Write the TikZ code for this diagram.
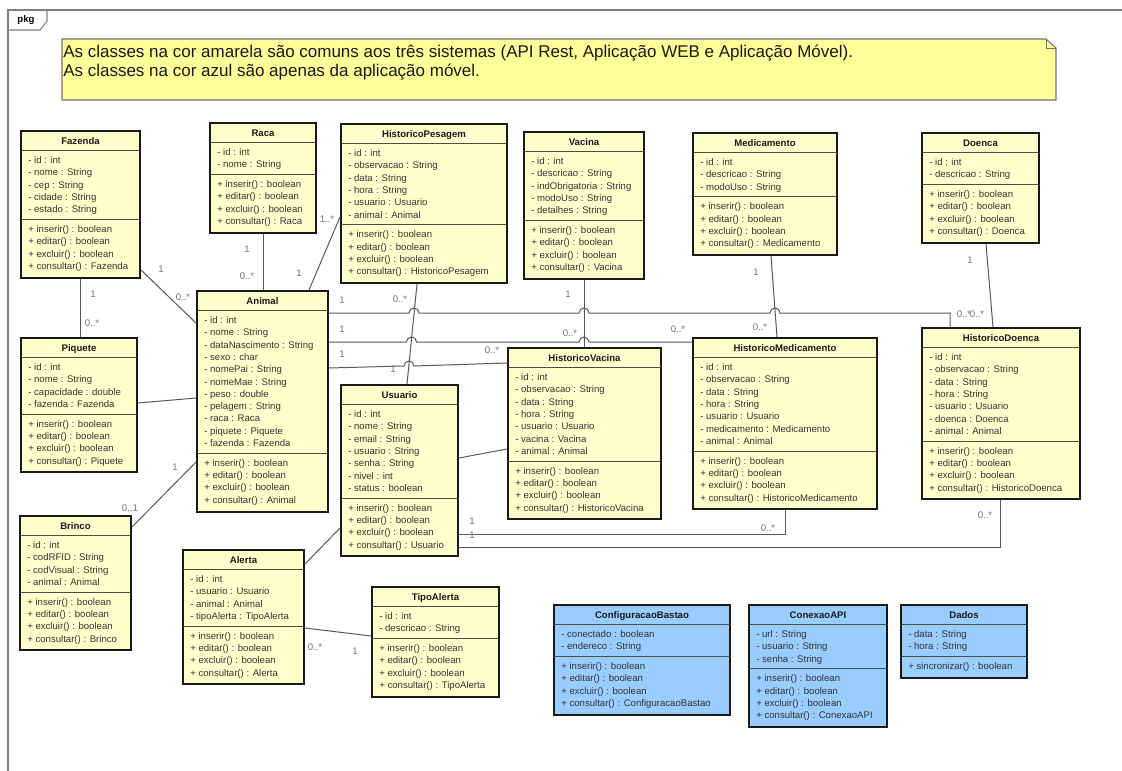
\documentclass[tikz,border=0pt]{standalone}
\usepackage{fontspec}
\setmainfont{Liberation Sans}
\usetikzlibrary{fit}

\definecolor{clsyellow}{HTML}{FFFFCC}
\definecolor{clsblue}{HTML}{99CCFF}
\definecolor{notefill}{HTML}{FFFF99}

% \umlclass{extra style}{name}{left}{top}{right}{title}{attributes}{operations}
% sizes in px: header 19.5, each row 12.3
\newcommand\umlclass[8]{%
  \gdef\clsNA{0}\foreach \cItem in {#7}{\pgfmathtruncatemacro\clsTmp{\clsNA+1}\global\let\clsNA\clsTmp}%
  \gdef\clsNM{0}\foreach \cItem in {#8}{\pgfmathtruncatemacro\clsTmp{\clsNM+1}\global\let\clsNM\clsTmp}%
  \pgfmathsetmacro\clsHS{#4+19.5}%
  \pgfmathsetmacro\clsAS{\clsHS+\clsNA*12.3+7.5}%
  \pgfmathsetmacro\clsBT{\clsAS+\clsNM*12.3+9}%
  \node[classbox,#1,fit={(#3,#4) (#5,\clsBT)}] (#2) {};
  \draw[sepline] (#3,\clsHS) -- (#5,\clsHS) (#3,\clsAS) -- (#5,\clsAS);
  \node[ctitle] (#2-name) at ({(#3+#5)/2},{#4+13.2}) {#6};
  \foreach \cRow [count=\i] in {#7}
    \node[crow] (#2-a\i) at ({#3+7},{\clsHS+13+(\i-1)*12.3}) {\cRow};
  \foreach \cRow [count=\i] in {#8}
    \node[crow] (#2-m\i) at ({#3+7},{\clsAS+13+(\i-1)*12.3}) {\cRow};
}

\begin{document}
\begin{tikzpicture}[x=0.75pt,y=-0.75pt,
  classbox/.style={draw=black!90,line width=1.5pt,fill=clsyellow,inner sep=0pt},
  bluebox/.style={fill=clsblue},
  sepline/.style={draw=black!70,line width=0.7pt},
  ctitle/.style={font=\fontsize{7.2}{9}\selectfont\bfseries,inner sep=0pt,anchor=base,text=black!90},
  crow/.style={font=\fontsize{7.2}{9}\selectfont,inner sep=0pt,anchor=base west,text=black!80},
  assoc/.style={draw=black!65,line width=0.75pt},
  mult/.style={font=\fontsize{7.2}{9}\selectfont,text=black!55,inner sep=0pt},
  frameline/.style={draw=black!50,line width=0.8pt},
  notebox/.style={draw=black!55,line width=0.8pt,fill=notefill},
  notetext/.style={font=\fontsize{12.75}{15}\selectfont,inner sep=0pt,anchor=base west,text=black!90}]

\useasboundingbox[fill=white] (0,0) rectangle (1122,771);

% package frame and its tab
\draw[frameline] (1122,10) -- (8,10) -- (8,771);
\draw[frameline] (8,30) -- (40,30) -- (47,21) -- (47,10);
\node[font=\fontsize{7.2}{9}\selectfont\bfseries,inner sep=0pt] (pkg) at (26,20) {pkg};

% note
\draw[notebox] (62,39) -- (1046,39) -- (1056,48) -- (1056,100) -- (62,100) -- cycle;
\draw[draw=black!55,line width=0.6pt] (1046,39) -- (1046,48) -- (1056,48);
\node[notetext] (note1) at (63,57.5) {As classes na cor amarela são comuns aos três sistemas (API Rest, Aplicação WEB e Aplicação Móvel).};
\node[notetext] (note2) at (63,76.5) {As classes na cor azul são apenas da aplicação móvel.};

% classes
\umlclass{}{fazenda}{21}{131}{140}{Fazenda}
  {- id : int,- nome : String,- cep : String,- cidade : String,- estado : String}
  {+ inserir() : boolean,+ editar() : boolean,+ excluir() : boolean,+ consultar() : Fazenda}
\umlclass{}{raca}{210}{123}{316}{Raca}
  {- id : int,- nome : String}
  {+ inserir() : boolean,+ editar() : boolean,+ excluir() : boolean,+ consultar() : Raca}
\umlclass{}{pesagem}{341}{124}{507}{HistoricoPesagem}
  {- id : int,- observacao : String,- data : String,- hora : String,- usuario : Usuario,- animal : Animal}
  {+ inserir() : boolean,+ editar() : boolean,+ excluir() : boolean,+ consultar() : HistoricoPesagem}
\umlclass{}{vacina}{524}{132}{644}{Vacina}
  {- id : int,- descricao : String,- indObrigatoria : String,- modoUso : String,- detalhes : String}
  {+ inserir() : boolean,+ editar() : boolean,+ excluir() : boolean,+ consultar() : Vacina}
\umlclass{}{medicamento}{693}{133}{837}{Medicamento}
  {- id : int,- descricao : String,- modoUso : String}
  {+ inserir() : boolean,+ editar() : boolean,+ excluir() : boolean,+ consultar() : Medicamento}
\umlclass{}{doenca}{922}{133}{1039}{Doenca}
  {- id : int,- descricao : String}
  {+ inserir() : boolean,+ editar() : boolean,+ excluir() : boolean,+ consultar() : Doenca}
\umlclass{}{animal}{197}{291}{328}{Animal}
  {- id : int,- nome : String,- dataNascimento : String,- sexo : char,- nomePai : String,- nomeMae : String,- peso : double,- pelagem : String,- raca : Raca,- piquete : Piquete,- fazenda : Fazenda}
  {+ inserir() : boolean,+ editar() : boolean,+ excluir() : boolean,+ consultar() : Animal}
\umlclass{}{piquete}{21}{338}{137}{Piquete}
  {- id : int,- nome : String,- capacidade : double,- fazenda : Fazenda}
  {+ inserir() : boolean,+ editar() : boolean,+ excluir() : boolean,+ consultar() : Piquete}
\umlclass{}{brinco}{20}{516}{131}{Brinco}
  {- id : int,- codRFID : String,- codVisual : String,- animal : Animal}
  {+ inserir() : boolean,+ editar() : boolean,+ excluir() : boolean,+ consultar() : Brinco}
\umlclass{}{usuario}{341}{385}{458}{Usuario}
  {- id : int,- nome : String,- email : String,- usuario : String,- senha : String,- nivel : int,- status : boolean}
  {+ inserir() : boolean,+ editar() : boolean,+ excluir() : boolean,+ consultar() : Usuario}
\umlclass{}{hvacina}{508}{348}{661}{HistoricoVacina}
  {- id : int,- observacao : String,- data : String,- hora : String,- usuario : Usuario,- vacina : Vacina,- animal : Animal}
  {+ inserir() : boolean,+ editar() : boolean,+ excluir() : boolean,+ consultar() : HistoricoVacina}
\umlclass{}{hmed}{693}{338}{877}{HistoricoMedicamento}
  {- id : int,- observacao : String,- data : String,- hora : String,- usuario : Usuario,- medicamento : Medicamento,- animal : Animal}
  {+ inserir() : boolean,+ editar() : boolean,+ excluir() : boolean,+ consultar() : HistoricoMedicamento}
\umlclass{}{hdoenca}{922}{328}{1080}{HistoricoDoenca}
  {- id : int,- observacao : String,- data : String,- hora : String,- usuario : Usuario,- doenca : Doenca,- animal : Animal}
  {+ inserir() : boolean,+ editar() : boolean,+ excluir() : boolean,+ consultar() : HistoricoDoenca}
\umlclass{}{alerta}{183}{550}{304}{Alerta}
  {- id : int,- usuario : Usuario,- animal : Animal,- tipoAlerta : TipoAlerta}
  {+ inserir() : boolean,+ editar() : boolean,+ excluir() : boolean,+ consultar() : Alerta}
\umlclass{}{tipoalerta}{372}{587}{499}{TipoAlerta}
  {- id : int,- descricao : String}
  {+ inserir() : boolean,+ editar() : boolean,+ excluir() : boolean,+ consultar() : TipoAlerta}
\umlclass{bluebox}{bastao}{554}{605}{730}{ConfiguracaoBastao}
  {- conectado : boolean,- endereco : String}
  {+ inserir() : boolean,+ editar() : boolean,+ excluir() : boolean,+ consultar() : ConfiguracaoBastao}
\umlclass{bluebox}{conexao}{749}{605}{887}{ConexaoAPI}
  {- url : String,- usuario : String,- senha : String}
  {+ inserir() : boolean,+ editar() : boolean,+ excluir() : boolean,+ consultar() : ConexaoAPI}
\umlclass{bluebox}{dados}{901}{605}{1027}{Dados}
  {- data : String,- hora : String}
  {+ sincronizar() : boolean}

% associations
\draw[assoc] (fazenda.east |- 0,270) -- (animal.west |- 0,323);
\draw[assoc] (fazenda.south -| 80,0) -- (piquete.north -| 80,0);
\draw[assoc] (raca.south -| 263,0) -- (animal.north -| 263,0);
\draw[assoc] (animal.north -| 309,0) -- (pesagem.west |- 0,217);
\draw[assoc] (piquete.east |- 0,403) -- (animal.west |- 0,398);
\draw[assoc] (brinco.east |- 0,527) -- (animal.west |- 0,462);
\draw[assoc] (pesagem.south -| 417,0) -- (usuario.north -| 407,0);
\draw[assoc] (vacina.south -| 584,0) -- (hvacina.north -| 584,0);
\draw[assoc] (medicamento.south -| 771,0) -- (hmed.north -| 777,0);
\draw[assoc] (doenca.south -| 986,0) -- (hdoenca.north -| 993,0);
% Animal to the three history classes, hopping over the vertical links
\draw[assoc] (animal.east |- 0,313) -- (409,313)
  arc[start angle=180,end angle=360,radius=5] -- (579,313)
  arc[start angle=180,end angle=360,radius=5] -- (770,313)
  arc[start angle=180,end angle=360,radius=5] -- (950,313) -- (hdoenca.north -| 950,0);
\draw[assoc] (animal.east |- 0,342) -- (406.5,342)
  arc[start angle=180,end angle=360,radius=5] -- (579,342)
  arc[start angle=180,end angle=360,radius=5] -- (hmed.west |- 0,342);
\draw[assoc] (animal.east |- 0,368) -- (404,366)
  arc[start angle=180,end angle=360,radius=5] -- (hvacina.west |- 0,363);
\draw[assoc] (usuario.east |- 0,458) -- (hvacina.west |- 0,449);
\draw[assoc] (usuario.west |- 0,528) -- (alerta.east |- 0,564);
\draw[assoc] (alerta.east |- 0,628) -- (tipoalerta.west |- 0,636);
\draw[assoc] (usuario.east |- 0,534) -- (785,534) -- (hmed.south -| 785,0);
\draw[assoc] (usuario.east |- 0,547) -- (1000,547) -- (hdoenca.south -| 1000,0);

% multiplicities
\node[mult] (m1) at (161,269) {1};
\node[mult] (m2) at (183,297) {0..*};
\node[mult] (m3) at (93,294) {1};
\node[mult] (m4) at (92,323) {0..*};
\node[mult] (m5) at (247,249) {1};
\node[mult] (m6) at (247,276) {0..*};
\node[mult] (m7) at (299,273) {1};
\node[mult] (m8) at (327,219) {1..*};
\node[mult] (m9) at (175,467) {1};
\node[mult] (m10) at (130,508) {0..1};
\node[mult] (m11) at (342,300) {1};
\node[mult] (m12) at (964,314) {0..*};
\node[mult] (m13) at (342,329) {1};
\node[mult] (m14) at (678,329) {0..*};
\node[mult] (m15) at (342,354) {1};
\node[mult] (m16) at (492,350) {0..*};
\node[mult] (m17) at (400,299) {0..*};
\node[mult] (m18) at (393,369) {1};
\node[mult] (m19) at (568,294) {1};
\node[mult] (m20) at (570,333) {0..*};
\node[mult] (m21) at (756,272) {1};
\node[mult] (m22) at (760,327) {0..*};
\node[mult] (m23) at (970,260) {1};
\node[mult] (m24) at (977,314) {0..*};
\node[mult] (m25) at (315,647) {0..*};
\node[mult] (m26) at (355,651) {1};
\node[mult] (m27) at (472,521) {1};
\node[mult] (m28) at (768,528) {0..*};
\node[mult] (m29) at (472,535) {1};
\node[mult] (m30) at (985,515) {0..*};

\end{tikzpicture}
\end{document}
